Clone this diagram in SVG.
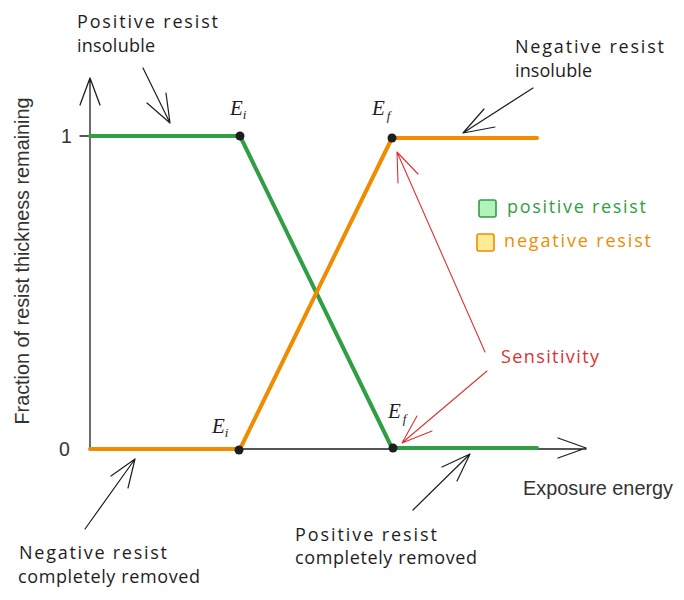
<svg xmlns="http://www.w3.org/2000/svg" width="684" height="600" viewBox="0 0 684 600">
<style>
.hand{font-family:"Open Sans","Noto Sans",sans-serif;font-size:18px;fill:#1e1e1e}
.axis{stroke:#1e1e1e;stroke-width:1.3;fill:none;stroke-linecap:round;stroke-linejoin:round}
.arr{stroke:#1e1e1e;stroke-width:1.2;fill:none;stroke-linecap:round;stroke-linejoin:round}
.red{stroke:#e03131;stroke-width:1.1;fill:none;stroke-linecap:round;stroke-linejoin:round}
.grn{stroke:#2f9e44;stroke-width:4;fill:none;stroke-linecap:round;stroke-linejoin:round}
.org{stroke:#f08c00;stroke-width:4;fill:none;stroke-linecap:round;stroke-linejoin:round}
.lbl{font-family:"Liberation Sans",Arial,sans-serif;font-size:19.5px;fill:#333}
.math{font-family:"Liberation Serif","Times New Roman",serif;font-style:italic;font-size:21px;fill:#1e1e1e}
.dot{fill:#1e1e1e}
</style>
<g id="axes">
<path class="axis" d="M90 449 V78 M80 105 L90 78 L100 105"/>
<path class="axis" d="M90 449 H586 M558 438 L586 448 L558 458"/>
<path class="axis" d="M80 136 H100"/>
<text class="lbl" x="61" y="143">1</text>
<text class="lbl" x="59" y="456">0</text>
<text class="lbl" x="523" y="495" textLength="150" lengthAdjust="spacingAndGlyphs">Exposure energy</text>
<text class="lbl" transform="translate(29 261) rotate(-90)" text-anchor="middle" textLength="327" lengthAdjust="spacingAndGlyphs">Fraction of resist thickness remaining</text>
</g>
<g id="curve-positive">
<path class="grn" d="M90 136 H240 L392 448 H537"/>
</g>
<g id="curve-negative">
<path class="org" d="M90 449 H240 L392 138 H537"/>
</g>
<g id="points">
<circle class="dot" cx="240" cy="136" r="4.5"/>
<circle class="dot" cx="239" cy="450" r="4.5"/>
<circle class="dot" cx="392" cy="138" r="4.5"/>
<circle class="dot" cx="393" cy="448" r="4.5"/>
<text class="math" x="230" y="115">E<tspan font-size="13" dy="4">i</tspan></text>
<text class="math" x="372" y="115">E<tspan font-size="13" dy="5" dx="2">f</tspan></text>
<text class="math" x="212" y="433">E<tspan font-size="13" dy="4">i</tspan></text>
<text class="math" x="388" y="418">E<tspan font-size="13" dy="5" dx="2">f</tspan></text>
</g>
<g id="legend">
<rect x="479" y="200" width="17" height="17" rx="2" fill="#b2f2bb" stroke="#2f9e44" stroke-width="1.6"/>
<text class="hand" x="507" y="213" style="fill:#2f9e44" textLength="139" lengthAdjust="spacing">positive resist</text>
<rect x="477" y="234" width="17" height="17" rx="2" fill="#ffec99" stroke="#f08c00" stroke-width="1.6"/>
<text class="hand" x="504" y="247" style="fill:#f08c00" textLength="147" lengthAdjust="spacing">negative resist</text>
</g>
<g id="note-pos-insoluble">
<text class="hand" x="77" y="28" textLength="141" lengthAdjust="spacing">Positive resist</text>
<text class="hand" x="77" y="52" textLength="78" lengthAdjust="spacing">insoluble</text>
</g>
<g id="note-neg-insoluble">
<text class="hand" x="515" y="53" textLength="149" lengthAdjust="spacing">Negative resist</text>
<text class="hand" x="515" y="77" textLength="77" lengthAdjust="spacing">insoluble</text>
</g>
<g id="note-neg-removed">
<text class="hand" x="19" y="559" textLength="148" lengthAdjust="spacing">Negative resist</text>
<text class="hand" x="18" y="583" textLength="182" lengthAdjust="spacing">completely removed</text>
</g>
<g id="note-pos-removed">
<text class="hand" x="295" y="541" textLength="142" lengthAdjust="spacing">Positive resist</text>
<text class="hand" x="295" y="564" textLength="182" lengthAdjust="spacing">completely removed</text>
</g>
<g id="note-sensitivity">
<text class="hand" x="501" y="363" style="fill:#e03131" textLength="98" lengthAdjust="spacing">Sensitivity</text>
</g>
<g id="connectors">
<path class="arr" d="M143 68 L170 123 M147 103 L170 123 L166 93"/>
<path class="arr" d="M533 88 L463 133 M484 109 L463 133 L495 127"/>
<path class="arr" d="M85 529 L135 459 M111 476 L135 459 L128 488"/>
<path class="arr" d="M413 510 L470 454 M442 467 L470 454 L457 481"/>
<path class="red" d="M485 352 L397 152 M398 183 L397 152 L418 174"/>
<path class="red" d="M487 371 L402 443 M417 416 L402 443 L432 431"/>
</g>
</svg>
